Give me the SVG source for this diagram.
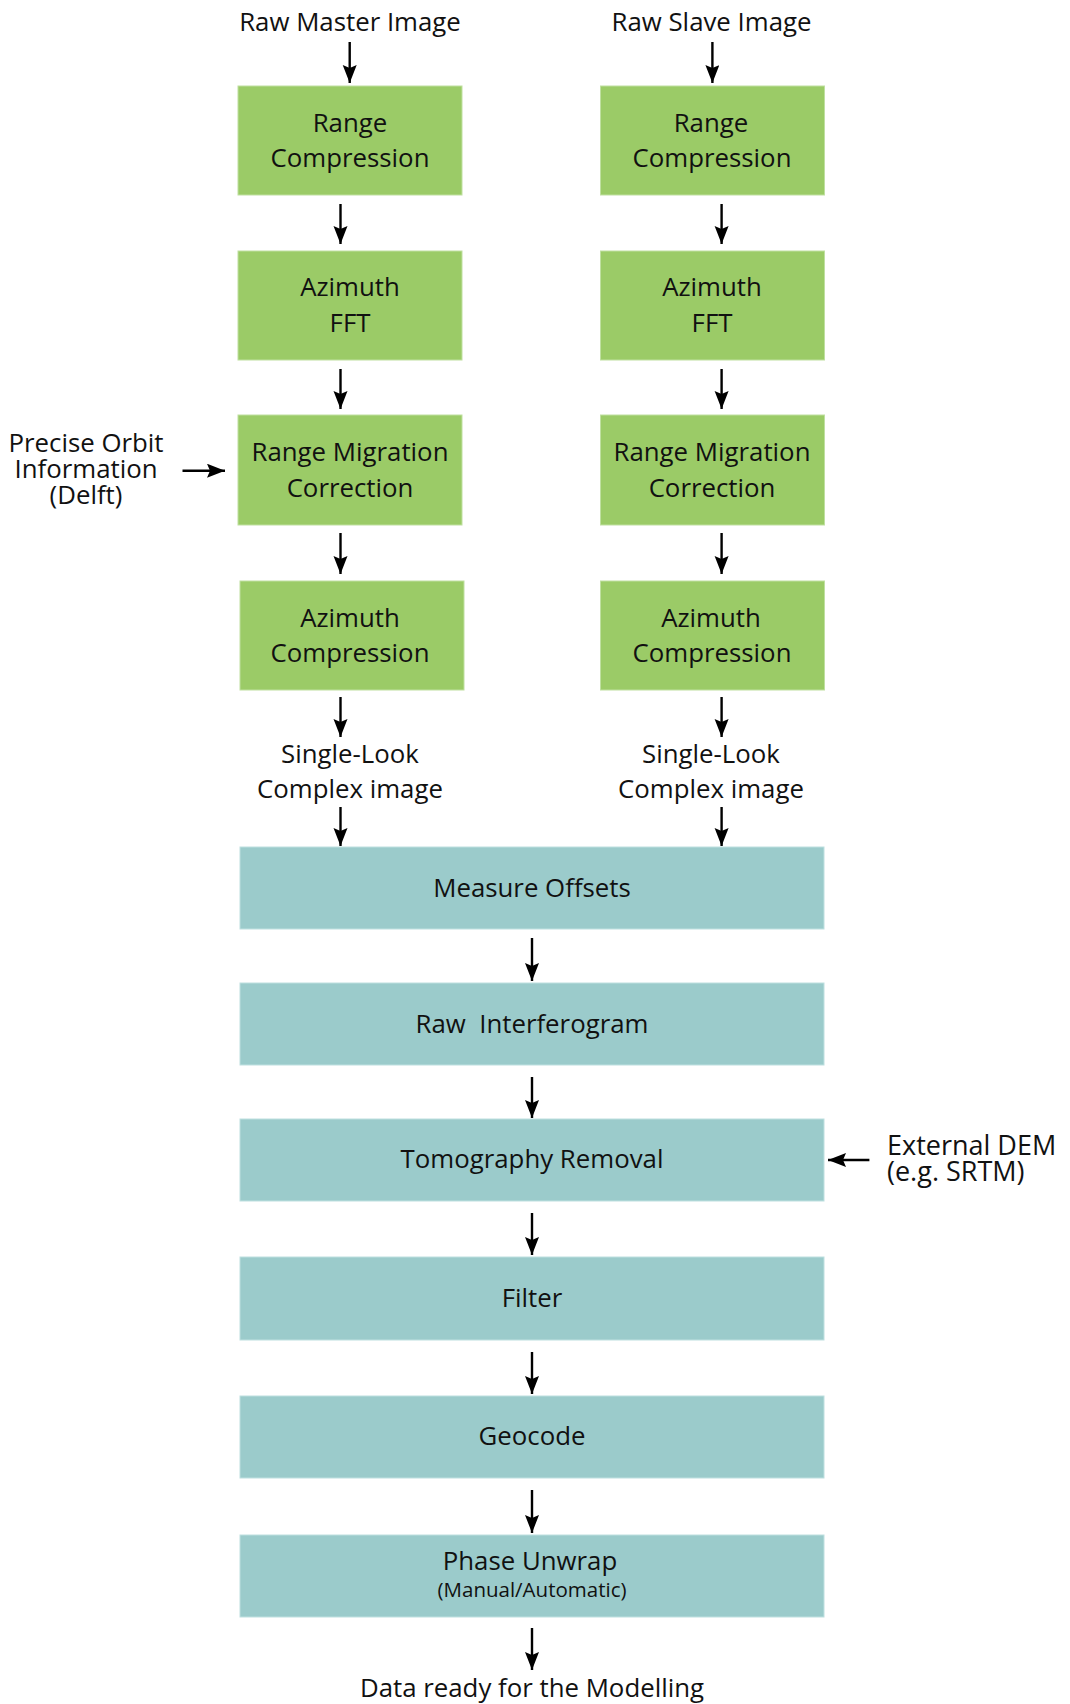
<svg xmlns="http://www.w3.org/2000/svg" width="1070" height="1704" viewBox="0 0 1070 1704">
<style>
text{font-family:"Open Sans","Liberation Sans",sans-serif;font-size:25.8px;fill:#111;text-anchor:middle}
.g{fill:#9BCB67;stroke:#BFE0A0;stroke-width:1}
.t{fill:#9BCBCB;stroke:#BEE0E0;stroke-width:1}
.a{stroke:#000;stroke-width:2.4;fill:none;marker-end:url(#ah)}
.s{font-size:20.5px}
</style>
<defs>
<marker id="ah" markerUnits="userSpaceOnUse" markerWidth="20" markerHeight="16" refX="18" refY="7" orient="auto">
<path d="M0,0 L18,7 L0,14 L3,7 z" fill="#000"/>
</marker>
</defs>
<rect width="1070" height="1704" fill="#fff"/>
<g id="labels">
<text x="350" y="31">Raw Master Image</text>
<text x="711.5" y="31">Raw Slave Image</text>
<text x="86" y="452">Precise Orbit</text>
<text x="86" y="478">Information</text>
<text x="86" y="504">(Delft)</text>
<text x="350" y="763">Single-Look</text>
<text x="350" y="798">Complex image</text>
<text x="711" y="763">Single-Look</text>
<text x="711" y="798">Complex image</text>
<text x="887" y="1155" style="text-anchor:start;font-size:27px">External DEM</text>
<text x="887" y="1181" style="text-anchor:start;font-size:27px">(e.g. SRTM)</text>
<text x="532" y="1697">Data ready for the Modelling</text>
</g>
<g id="m_rc"><rect class="g" x="238" y="86" width="224" height="109"/><text x="350" y="132">Range</text><text x="350" y="167">Compression</text></g>
<g id="m_af"><rect class="g" x="238" y="251" width="224" height="109"/><text x="350" y="296">Azimuth</text><text x="350" y="332">FFT</text></g>
<g id="m_rmc"><rect class="g" x="238" y="415" width="224" height="110"/><text x="350" y="461">Range Migration</text><text x="350" y="497">Correction</text></g>
<g id="m_ac"><rect class="g" x="240" y="581" width="224" height="109"/><text x="350" y="627">Azimuth</text><text x="350" y="662">Compression</text></g>
<g id="s_rc"><rect class="g" x="600.5" y="86" width="224" height="109"/><text x="711" y="132">Range</text><text x="712" y="167">Compression</text></g>
<g id="s_af"><rect class="g" x="600.5" y="251" width="224" height="109"/><text x="712" y="296">Azimuth</text><text x="712" y="332">FFT</text></g>
<g id="s_rmc"><rect class="g" x="600.5" y="415" width="224" height="110"/><text x="712" y="461">Range Migration</text><text x="712" y="497">Correction</text></g>
<g id="s_ac"><rect class="g" x="600.5" y="581" width="224" height="109"/><text x="711" y="627">Azimuth</text><text x="712" y="662">Compression</text></g>
<g id="mo"><rect class="t" x="240" y="847" width="584" height="82"/><text x="532" y="897">Measure Offsets</text></g>
<g id="ri"><rect class="t" x="240" y="983" width="584" height="82"/><text x="532" y="1033" xml:space="preserve">Raw  Interferogram</text></g>
<g id="tr"><rect class="t" x="240" y="1119" width="584" height="82"/><text x="532" y="1168">Tomography Removal</text></g>
<g id="fi"><rect class="t" x="240" y="1257" width="584" height="83"/><text x="532" y="1307">Filter</text></g>
<g id="ge"><rect class="t" x="240" y="1396" width="584" height="82"/><text x="532" y="1445">Geocode</text></g>
<g id="pu"><rect class="t" x="240" y="1535" width="584" height="82"/><text x="530" y="1570">Phase Unwrap</text><text class="s" x="532" y="1597">(Manual/Automatic)</text></g>
<g id="connectors">
<line class="a" x1="349.7" y1="42" x2="349.7" y2="83"/>
<line class="a" x1="340.5" y1="204" x2="340.5" y2="244"/>
<line class="a" x1="340.5" y1="369" x2="340.5" y2="409"/>
<line class="a" x1="340.5" y1="533" x2="340.5" y2="574"/>
<line class="a" x1="340.5" y1="697" x2="340.5" y2="737"/>
<line class="a" x1="340.5" y1="807" x2="340.5" y2="846"/>
<line class="a" x1="712.4" y1="42" x2="712.4" y2="83"/>
<line class="a" x1="721.6" y1="204" x2="721.6" y2="244"/>
<line class="a" x1="721.6" y1="369" x2="721.6" y2="409"/>
<line class="a" x1="721.6" y1="533" x2="721.6" y2="574"/>
<line class="a" x1="721.6" y1="697" x2="721.6" y2="737"/>
<line class="a" x1="721.6" y1="807" x2="721.6" y2="846"/>
<line class="a" x1="182.5" y1="470.7" x2="225" y2="470.7"/>
<line class="a" x1="869.4" y1="1160" x2="828" y2="1160"/>
<line class="a" x1="532" y1="938" x2="532" y2="981"/>
<line class="a" x1="532" y1="1077" x2="532" y2="1118"/>
<line class="a" x1="532" y1="1213" x2="532" y2="1255"/>
<line class="a" x1="532" y1="1352" x2="532" y2="1394"/>
<line class="a" x1="532" y1="1490" x2="532" y2="1533"/>
<line class="a" x1="532" y1="1628" x2="532" y2="1670"/>
</g>
</svg>
